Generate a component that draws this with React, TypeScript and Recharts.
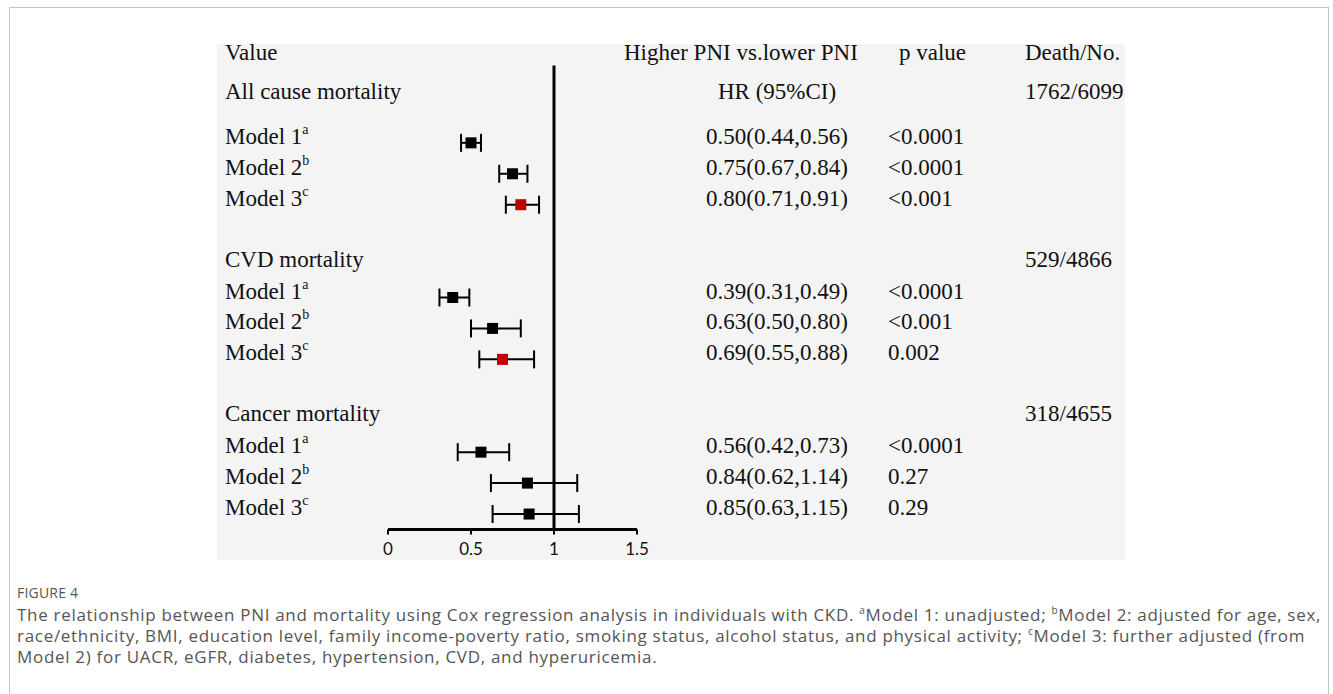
import { ScatterChart, Scatter, XAxis, YAxis, ErrorBar, ReferenceLine } from "recharts"

// values
const GROUPS = ["All cause mortality", "CVD mortality", "Cancer mortality"]
const DEATHS = ["1762/6099", "529/4866", "318/4655"]
const MODELS = ["Model 1", "Model 2", "Model 3"]
const MODEL_SUP = ["a", "b", "c"]
const HR = [
  [0.5, 0.75, 0.8],
  [0.39, 0.63, 0.69],
  [0.56, 0.84, 0.85],
]
const LOWER = [
  [0.44, 0.67, 0.71],
  [0.31, 0.5, 0.55],
  [0.42, 0.62, 0.63],
]
const UPPER = [
  [0.56, 0.84, 0.91],
  [0.49, 0.8, 0.88],
  [0.73, 1.14, 1.15],
]
const P_VALUES = [
  ["<0.0001", "<0.0001", "<0.001"],
  ["<0.0001", "<0.001", "0.002"],
  ["<0.0001", "0.27", "0.29"],
]
const HIGHLIGHT = [
  [false, false, true],
  [false, false, true],
  [false, false, false],
]
const X_TICKS = [0, 0.5, 1, 1.5]
const COLUMN_HEADERS = ["Value", "Higher PNI vs.lower PNI", "p value", "Death/No."]
const HR_SUBHEADER = "HR (95%CI)"

type Row = { kind: "group" | "model" | "blank"; g: number; m?: number }

const rows: Row[] = []
GROUPS.forEach((_, g) => {
  if (g > 0) rows.push({ kind: "blank", g })
  rows.push({ kind: "group", g })
  if (g === 0) rows.push({ kind: "blank", g })
  MODELS.forEach((_, m) => rows.push({ kind: "model", g, m }))
})

const points = rows
  .map((r, i) => ({ r, i }))
  .filter(({ r }) => r.kind === "model")
  .map(({ r, i }) => {
    const hr = HR[r.g][r.m!]
    return {
      row: i,
      hr,
      err: [hr - LOWER[r.g][r.m!], UPPER[r.g][r.m!] - hr],
      red: HIGHLIGHT[r.g][r.m!],
    }
  })

const fmt = (v: number) => v.toFixed(2)

// text column x positions (page coords, chart covers the whole page)
const COL = { label: 225, head2: 624, hr: 706, pHead: 899, p: 888, death: 1025 }
const serif = "'Liberation Serif', 'Times New Roman', serif"
const textStyle = { fontFamily: serif, fontSize: 23, fill: "#111" }

const RowTick = ({ y, payload }: any) => {
  const r = rows[payload.value]
  if (!r || r.kind === "blank") return null
  if (r.kind === "group") {
    const by = r.g === 0 ? y + 18 : y
    return (
      <g style={textStyle as any}>
        {r.g === 0 && (
          <>
            <text x={COL.label} y={y - 21}>{COLUMN_HEADERS[0]}</text>
            <text x={COL.head2} y={y - 21}>{COLUMN_HEADERS[1]}</text>
            <text x={COL.pHead} y={y - 21}>{COLUMN_HEADERS[2]}</text>
            <text x={COL.death} y={y - 21}>{COLUMN_HEADERS[3]}</text>
            <text x={COL.hr + 12} y={by}>{HR_SUBHEADER}</text>
          </>
        )}
        <text x={COL.label} y={by}>{GROUPS[r.g]}</text>
        <text x={COL.death} y={by}>{DEATHS[r.g]}</text>
      </g>
    )
  }
  const m = r.m!
  return (
    <g style={textStyle as any}>
      <text x={COL.label} y={y + 1}>
        {MODELS[m]}
        <tspan dy={-10} fontSize={14}>{MODEL_SUP[m]}</tspan>
      </text>
      <text x={COL.hr} y={y + 1}>
        {`${fmt(HR[r.g][m])}(${fmt(LOWER[r.g][m])},${fmt(UPPER[r.g][m])})`}
      </text>
      <text x={COL.p} y={y + 1}>{P_VALUES[r.g][m]}</text>
    </g>
  )
}

const Square = (props: any) => {
  const { cx, cy, payload } = props
  const s = 11
  return <rect x={cx - s / 2} y={cy - s / 2} width={s} height={s} fill={payload.red ? "#c00000" : "#000"} />
}

export default function App() {
  return (
    <div style={{ position: "absolute", left: 0, top: 0, width: 1333, height: 694, overflow: "hidden", background: "#fff" }}>
      <div style={{ position: "absolute", left: 9, top: 7, width: 1318, height: 740, border: "1px solid #c4c4c4" }} />
      <div style={{ position: "absolute", left: 217, top: 44, width: 908, height: 516, background: "#f4f4f4" }} />
      <div style={{ position: "absolute", left: 0, top: 0 }}>
        <ScatterChart width={1333} height={694} margin={{ top: 65.5, right: 696, bottom: 134.5, left: 0 }}>
          <XAxis
            type="number"
            dataKey="hr"
            domain={[0, 1.5]}
            ticks={X_TICKS}
            interval={0}
            height={30}
            axisLine={{ stroke: "#000", strokeWidth: 3 }}
            tickLine={{ stroke: "#000", strokeWidth: 2 }}
            tickSize={5}
            tickMargin={8}
            tick={{ fill: "#111", fontSize: 17, fontFamily: "Lato, 'Open Sans', sans-serif" }}
          />
          <YAxis
            type="number"
            dataKey="row"
            domain={[-0.5, rows.length - 0.5]}
            ticks={rows.map((_, i) => i)}
            interval={0}
            reversed
            width={388}
            axisLine={false}
            tickLine={false}
            tick={<RowTick />}
          />
          <ReferenceLine x={1} stroke="#000" strokeWidth={3} />
          <Scatter data={points} shape={<Square />} isAnimationActive={false}>
            <ErrorBar dataKey="err" direction="x" width={9} strokeWidth={2} stroke="#000" />
          </Scatter>
        </ScatterChart>
      </div>
      <div style={{ position: "absolute", left: 17, top: 583, fontFamily: "'Open Sans', sans-serif", color: "#555" }}>
        <div style={{ fontSize: 14, letterSpacing: 0.2, lineHeight: "19px", marginBottom: 2 }}>FIGURE 4</div>
        <div style={{ fontSize: 17, lineHeight: "21px", letterSpacing: 0.7, whiteSpace: "nowrap" }}>
          <div>
            The relationship between PNI and mortality using Cox regression analysis in individuals with CKD. <sup style={{ fontSize: 10, lineHeight: 0 }}>a</sup>Model 1: unadjusted; <sup style={{ fontSize: 10, lineHeight: 0 }}>b</sup>Model 2: adjusted for age, sex,
          </div>
          <div>
            race/ethnicity, BMI, education level, family income-poverty ratio, smoking status, alcohol status, and physical activity; <sup style={{ fontSize: 10, lineHeight: 0 }}>c</sup>Model 3: further adjusted (from
          </div>
          <div>Model 2) for UACR, eGFR, diabetes, hypertension, CVD, and hyperuricemia.</div>
        </div>
      </div>
    </div>
  )
}
